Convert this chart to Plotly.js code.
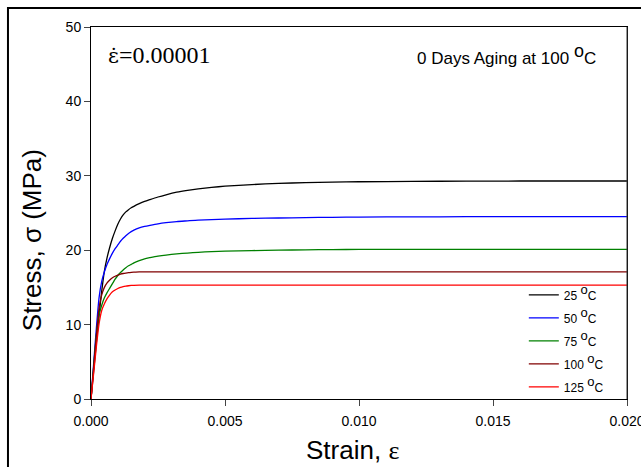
<!DOCTYPE html>
<html>
<head>
<meta charset="utf-8">
<script src="https://cdn.plot.ly/plotly-3.0.1.min.js"></script>
<style>
html,body{margin:0;padding:0;background:#fff;}
#chart{width:641px;height:467px;}
</style>
</head>
<body>
<div id="chart"></div>
<script>
// Strain values (shared by all curves)
const strain = [0, 0.0001, 0.0002, 0.0003, 0.0004, 0.0005, 0.0006, 0.0007, 0.0008, 0.0009, 0.001, 0.0011, 0.0012, 0.0013, 0.0014, 0.0015, 0.0016, 0.0018, 0.002, 0.0022, 0.0025, 0.0028, 0.0032, 0.0036, 0.004, 0.0045, 0.005, 0.006, 0.007, 0.008, 0.009, 0.01, 0.012, 0.014, 0.016, 0.018, 0.02];
// Stress (MPa) per test temperature
const stress25  = [0, 3.8, 7.6, 11.2, 14.5, 17.2, 19.0, 20.4, 21.6, 22.6, 23.5, 24.2, 24.75, 25.15, 25.45, 25.7, 25.9, 26.25, 26.55, 26.8, 27.15, 27.45, 27.8, 28.05, 28.25, 28.45, 28.6, 28.82, 28.98, 29.08, 29.15, 29.2, 29.25, 29.28, 29.3, 29.3, 29.3];
const stress50  = [0, 4.8, 9.5, 13.6, 15.8, 17.1, 18.1, 18.9, 19.6, 20.2, 20.7, 21.2, 21.6, 21.95, 22.25, 22.5, 22.7, 23.0, 23.2, 23.35, 23.55, 23.7, 23.85, 23.95, 24.05, 24.12, 24.18, 24.27, 24.33, 24.38, 24.42, 24.45, 24.48, 24.5, 24.5, 24.5, 24.5];
const stress75  = [0, 4.4, 8.6, 11.3, 12.6, 13.6, 14.3, 14.9, 15.5, 16.1, 16.6, 17.0, 17.35, 17.65, 17.9, 18.1, 18.3, 18.6, 18.85, 19.0, 19.2, 19.35, 19.5, 19.62, 19.72, 19.8, 19.87, 19.95, 20.0, 20.05, 20.08, 20.1, 20.1, 20.1, 20.1, 20.1, 20.1];
const stress100 = [0, 4.3, 8.5, 12.2, 14.0, 15.0, 15.6, 16.0, 16.3, 16.5, 16.65, 16.78, 16.87, 16.93, 16.98, 17.02, 17.05, 17.08, 17.1, 17.1, 17.1, 17.1, 17.1, 17.1, 17.1, 17.1, 17.1, 17.1, 17.1, 17.1, 17.1, 17.1, 17.1, 17.1, 17.1, 17.1, 17.1];
const stress125 = [0, 3.5, 7.0, 10.1, 11.9, 12.8, 13.5, 14.0, 14.4, 14.65, 14.85, 15.0, 15.1, 15.17, 15.22, 15.26, 15.28, 15.3, 15.3, 15.3, 15.3, 15.3, 15.3, 15.3, 15.3, 15.3, 15.3, 15.3, 15.3, 15.3, 15.3, 15.3, 15.3, 15.3, 15.3, 15.3, 15.3];
const SUP = '<sup><span style="font-size:13px">o</span></sup>';
const seriesNames = ["25 " + SUP + "C", "50 " + SUP + "C", "75 " + SUP + "C", "100 " + SUP + "C", "125 " + SUP + "C"];
const seriesColors = ["#000000", "#0000ff", "#008000", "#800000", "#ff0000"];
const xTicks = [0, 0.005, 0.01, 0.015, 0.02];
const xTickLabels = ["0.000", "0.005", "0.010", "0.015", "0.020"];
const yTicks = [0, 10, 20, 30, 40, 50];

const allStress = [stress25, stress50, stress75, stress100, stress125];
const traces = allStress.map((s, i) => ({
  x: strain, y: s, type: 'scatter', mode: 'lines',
  name: seriesNames[i], legendgroup: 'g' + i,
  line: {color: seriesColors[i], width: 1.3, shape: 'spline', smoothing: 0.6}
}));

const F = 'Arial, "Liberation Sans", sans-serif';
const layout = {
  width: 641, height: 467,
  margin: {l: 91, r: 14, t: 27, b: 68},
  paper_bgcolor: '#fff', plot_bgcolor: '#fff',
  font: {family: F, color: '#000'},
  showlegend: true,
  legend: {x: 0.8075, xanchor: 'left', y: 0.319, yanchor: 'top', bgcolor: 'rgba(0,0,0,0)',
           font: {size: 12, family: F}, tracegroupgap: 4},
  xaxis: {range: [0, 0.02], tickvals: xTicks, ticktext: xTickLabels, ticks: 'outside', ticklen: 6,
          ticklabeloverflow: 'allow', ticklabelstandoff: 3,
          showgrid: false, zeroline: false, showline: true, linecolor: '#000', linewidth: 1, mirror: true,
          tickfont: {size: 14}},
  yaxis: {range: [0, 50], tickvals: yTicks, ticks: 'outside', ticklen: 6,
          showgrid: false, zeroline: false, showline: true, linecolor: '#000', linewidth: 1, mirror: true,
          tickfont: {size: 14}},
  annotations: [
    {xref: 'paper', yref: 'paper', x: 0.028, y: 0.925, xanchor: 'left', yanchor: 'middle', showarrow: false,
     text: '<span style="font-family:\'DejaVu Serif\'; font-size:21px">ε\u0307</span>=0.00001',
     font: {family: '"Liberation Serif", "Times New Roman", serif', size: 24}},
    {xref: 'paper', yref: 'paper', x: 0.604, y: 0.925, xanchor: 'left', yanchor: 'middle', showarrow: false,
     text: '0 Days Aging at 100 <sup><span style="font-size:18px">o</span></sup>C', font: {size: 17}},
    {xref: 'paper', yref: 'paper', x: 0.487, y: -0.137, xanchor: 'center', yanchor: 'middle', showarrow: false,
     text: 'Strain, <span style="font-family:\'Liberation Serif\'">ε</span>', font: {size: 26}},
    {xref: 'paper', yref: 'paper', x: -0.110, y: 0.427, xanchor: 'center', yanchor: 'middle', showarrow: false,
     textangle: -90, text: 'Stress, σ (MPa)', font: {size: 26}}
  ],
  shapes: [
    {type: 'rect', xref: 'paper', yref: 'paper', x0: -0.1549, x1: 2, y0: -2, y1: 1.0511,
     line: {color: '#000', width: 2}, layer: 'above'},
    {type: 'line', xref: 'paper', yref: 'paper', x0: 1, x1: 1, y0: 0, y1: 1,
     line: {color: '#333', width: 1}, layer: 'above'}
  ]
};

Plotly.newPlot('chart', traces, layout, {displayModeBar: false, staticPlot: true});
</script>
</body>
</html>
